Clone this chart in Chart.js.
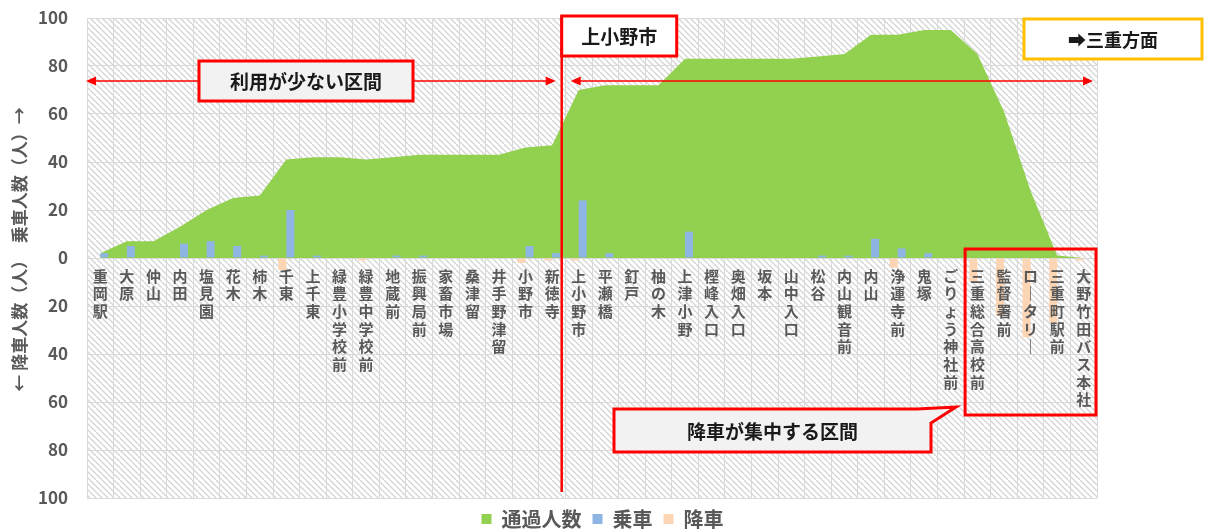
<!DOCTYPE html>
<html lang="ja">
<head>
<meta charset="utf-8">
<title>路線バス 乗降人数と通過人数</title>
<script src="https://cdn.jsdelivr.net/npm/chart.js@4.4.0/dist/chart.umd.min.js"></script>
<style>
  html, body { margin: 0; padding: 0; background: #fff; }
  #wrap { width: 1205px; height: 531px; }
</style>
</head>
<body>
<div id="wrap"><canvas id="chart" width="1205" height="531"></canvas></div>
<script>
// バス停（重岡駅 → 大野竹田バス本社）
const stops = [
    '重岡駅', '大原', '仲山', '内田', '塩見園', '花木', '柿木', '千東', '上千東',
    '緑豊小学校前', '緑豊中学校前', '地蔵前', '振興局前', '家畜市場', '桑津留',
    '井手野津留', '小野市', '新徳寺', '上小野市', '平瀬橋', '釘戸', '柚の木',
    '上津小野', '樫峰入口', '奥畑入口', '坂本', '山中入口', '松谷', '内山観音前',
    '内山', '浄運寺前', '鬼塚', 'ごりょう神社前', '三重総合高校前', '監督署前',
    'ロータリー', '三重町駅前', '大野竹田バス本社'
];

// 通過人数（人）
const passing = [
    2, 7, 7, 13, 20, 25, 26, 41, 42, 42, 41, 42, 43, 43, 43, 43, 46, 47,
    70, 72, 72, 72, 83, 83, 83, 83, 83, 84, 85, 93, 93, 95, 95, 85, 61, 28, 1, 0
];

// 乗車（人）
const boarding = [
    2, 5, 0, 6, 7, 5, 1, 20, 1, 0, 0, 1, 1, 0, 0, 0, 5, 2,
    24, 2, 0, 0, 11, 0, 0, 0, 0, 1, 1, 8, 4, 2, 0, 0, 0, 0, 0, 0
];

// 降車（人）
const alighting = [
    0, 0, 0, 0, 0, 0, 0, 5, 0, 0, 1, 0, 0, 0, 0, 0, 2, 1,
    1, 0, 0, 0, 0, 0, 0, 0, 0, 0, 0, 0, 4, 0, 0, 10, 24, 33, 27, 1
];

// 縦軸目盛（下向きは降車）
const yTicks = [-100, -80, -60, -40, -20, 0, 20, 40, 60, 80, 100];

const FONT = '"Noto Sans CJK JP", "Noto Sans", sans-serif';
const GRAY = '#595959';
const GRID = '#d9d9d9';

// 縦書き風のラベル（1文字ずつ改行、長音は縦棒に）
const verticalLabels = stops.map(s => Array.from(s).map(c => c === 'ー' ? '｜' : c));

// 斜線の背景パターン
function makeHatch() {
    const size = 6;
    const c = document.createElement('canvas');
    c.width = size;
    c.height = size;
    const g = c.getContext('2d');
    g.fillStyle = '#ffffff';
    g.fillRect(0, 0, size, size);
    g.strokeStyle = '#d4d4d4';
    g.lineWidth = 1.3;
    for (let k = -1; k <= 1; k++) {
        g.beginPath();
        g.moveTo(k * size, 0);
        g.lineTo(k * size + size, size);
        g.stroke();
    }
    return g.createPattern(c, 'repeat');
}

const hatchBackground = {
    id: 'hatchBackground',
    beforeDraw(chart) {
        const { ctx, chartArea: a } = chart;
        ctx.save();
        ctx.fillStyle = makeHatch();
        ctx.fillRect(a.left, a.top, a.right - a.left, a.bottom - a.top);
        ctx.restore();
    }
};

function drawBox(ctx, x, y, w, h, fill, stroke, text, size) {
    ctx.fillStyle = fill;
    ctx.fillRect(x, y, w, h);
    ctx.strokeStyle = stroke;
    ctx.lineWidth = 3;
    ctx.strokeRect(x, y, w, h);
    ctx.fillStyle = '#1a1a1a';
    ctx.font = 'bold ' + size + 'px ' + FONT;
    ctx.textAlign = 'center';
    ctx.textBaseline = 'middle';
    ctx.fillText(text, x + w / 2, y + h / 2 + 1);
}

function arrowLine(ctx, x1, x2, y) {
    ctx.strokeStyle = '#ff0000';
    ctx.fillStyle = '#ff0000';
    ctx.lineWidth = 1.5;
    ctx.beginPath();
    ctx.moveTo(x1 + 6, y);
    ctx.lineTo(x2 - 6, y);
    ctx.stroke();
    [[x1, 1], [x2, -1]].forEach(([x, d]) => {
        ctx.beginPath();
        ctx.moveTo(x, y);
        ctx.lineTo(x + d * 10, y - 4.5);
        ctx.lineTo(x + d * 10, y + 4.5);
        ctx.closePath();
        ctx.fill();
    });
}

const annotations = {
    id: 'annotations',
    afterDraw(chart) {
        const { ctx, chartArea: a, scales: { x } } = chart;
        const step = x.getPixelForValue(1) - x.getPixelForValue(0);
        const edge = i => x.getPixelForValue(i) - step / 2;

        ctx.save();

        // 上小野市の区切り線
        const splitX = x.getPixelForValue(17) + step * 0.36;
        ctx.strokeStyle = '#ff0000';
        ctx.lineWidth = 2.5;
        ctx.beginPath();
        ctx.moveTo(splitX, 16);
        ctx.lineTo(splitX, 492);
        ctx.stroke();

        // 区間の矢印
        arrowLine(ctx, a.left - 1, splitX - 6, 81);
        arrowLine(ctx, splitX + 9, a.right - 4, 81);

        // 吹き出し類
        drawBox(ctx, 199, 61, 214, 40, '#f2f2f2', '#ff0000', '利用が少ない区間', 19);
        drawBox(ctx, splitX, 16, 115, 40, '#ffffff', '#ff0000', '上小野市', 19);
        drawBox(ctx, 1024, 19, 178, 40, '#ffffff', '#ffc000', '➡三重方面', 18);

        // 降車が集中する区間（右上へ伸びる吹き出し）
        const bx = 614, by = 409, bw = 317, bh = 43;
        ctx.fillStyle = '#f2f2f2';
        ctx.strokeStyle = '#ff0000';
        ctx.lineWidth = 3;
        ctx.beginPath();
        ctx.moveTo(bx, by);
        ctx.lineTo(bx + bw - 14, by);
        ctx.lineTo(956, 407);
        ctx.lineTo(bx + bw, by + 14);
        ctx.lineTo(bx + bw, by + bh);
        ctx.lineTo(bx, by + bh);
        ctx.closePath();
        ctx.fill();
        ctx.stroke();
        ctx.fillStyle = '#1a1a1a';
        ctx.font = 'bold 19px ' + FONT;
        ctx.textAlign = 'center';
        ctx.textBaseline = 'middle';
        ctx.fillText('降車が集中する区間', bx + bw / 2, by + bh / 2 + 1);

        // 降車集中区間の枠
        ctx.strokeStyle = '#ff0000';
        ctx.lineWidth = 3;
        const rx = edge(33) + 1;
        ctx.strokeRect(rx, 249, edge(38) - rx - 1, 166);

        ctx.restore();
    }
};

new Chart(document.getElementById('chart'), {
    type: 'bar',
    data: {
        labels: verticalLabels,
        datasets: [
            {
                type: 'line',
                label: '通過人数',
                data: passing,
                backgroundColor: '#92d050',
                borderColor: '#92d050',
                borderWidth: 0,
                pointRadius: 0,
                fill: 'origin',
                tension: 0,
                order: 3
            },
            {
                label: '乗車',
                data: boarding,
                backgroundColor: '#8eb4e3',
                order: 2
            },
            {
                label: '降車',
                data: alighting.map(v => -v),
                backgroundColor: '#fcd5b4',
                order: 1
            }
        ]
    },
    options: {
        responsive: false,
        animation: false,
        devicePixelRatio: 1,
        categoryPercentage: 0.6,
        barPercentage: 1,
        layout: { padding: { top: 18, right: 0, bottom: 0, left: 0 } },
        scales: {
            x: {
                position: { y: 0 },
                grid: { color: GRID, offset: true, drawTicks: false },
                border: { color: GRID },
                ticks: {
                    z: 1,
                    autoSkip: false,
                    maxRotation: 0,
                    minRotation: 0,
                    padding: 9,
                    color: GRAY,
                    font: { family: FONT, size: 15, weight: 'bold', lineHeight: 1.18 }
                }
            },
            y: {
                min: -100,
                max: 100,
                grid: { color: GRID, drawTicks: false },
                border: { color: GRID },
                afterBuildTicks(scale) {
                    scale.ticks = yTicks.map(v => ({ value: v }));
                },
                afterFit(scale) {
                    scale.width = 87;
                    scale.paddingTop = 0;
                    scale.paddingBottom = 0;
                },
                ticks: {
                    padding: 19,
                    color: GRAY,
                    font: { family: FONT, size: 17, weight: 'bold' },
                    callback: v => Math.abs(v)
                },
                title: {
                    display: true,
                    text: '　← 降車人数（人）　乗車人数（人）→',
                    color: GRAY,
                    padding: { top: 9, bottom: 0 },
                    font: { family: FONT, size: 17, weight: 'bold' }
                }
            },
            // 右側の余白（三重方面の札が入る）
            spacer: {
                position: 'right',
                grid: { display: false },
                border: { display: false },
                ticks: { display: false },
                afterFit(scale) {
                    scale.width = 108;
                    scale.paddingTop = 0;
                    scale.paddingBottom = 0;
                }
            }
        },
        plugins: {
            legend: {
                position: 'bottom',
                maxHeight: 33,
                labels: {
                    boxWidth: 10,
                    boxHeight: 10,
                    padding: 11,
                    color: GRAY,
                    font: { family: FONT, size: 20, weight: 'bold' },
                    sort: (a, b) => a.datasetIndex - b.datasetIndex
                }
            },
            tooltip: { enabled: false }
        }
    },
    plugins: [hatchBackground, annotations]
});
</script>
</body>
</html>
